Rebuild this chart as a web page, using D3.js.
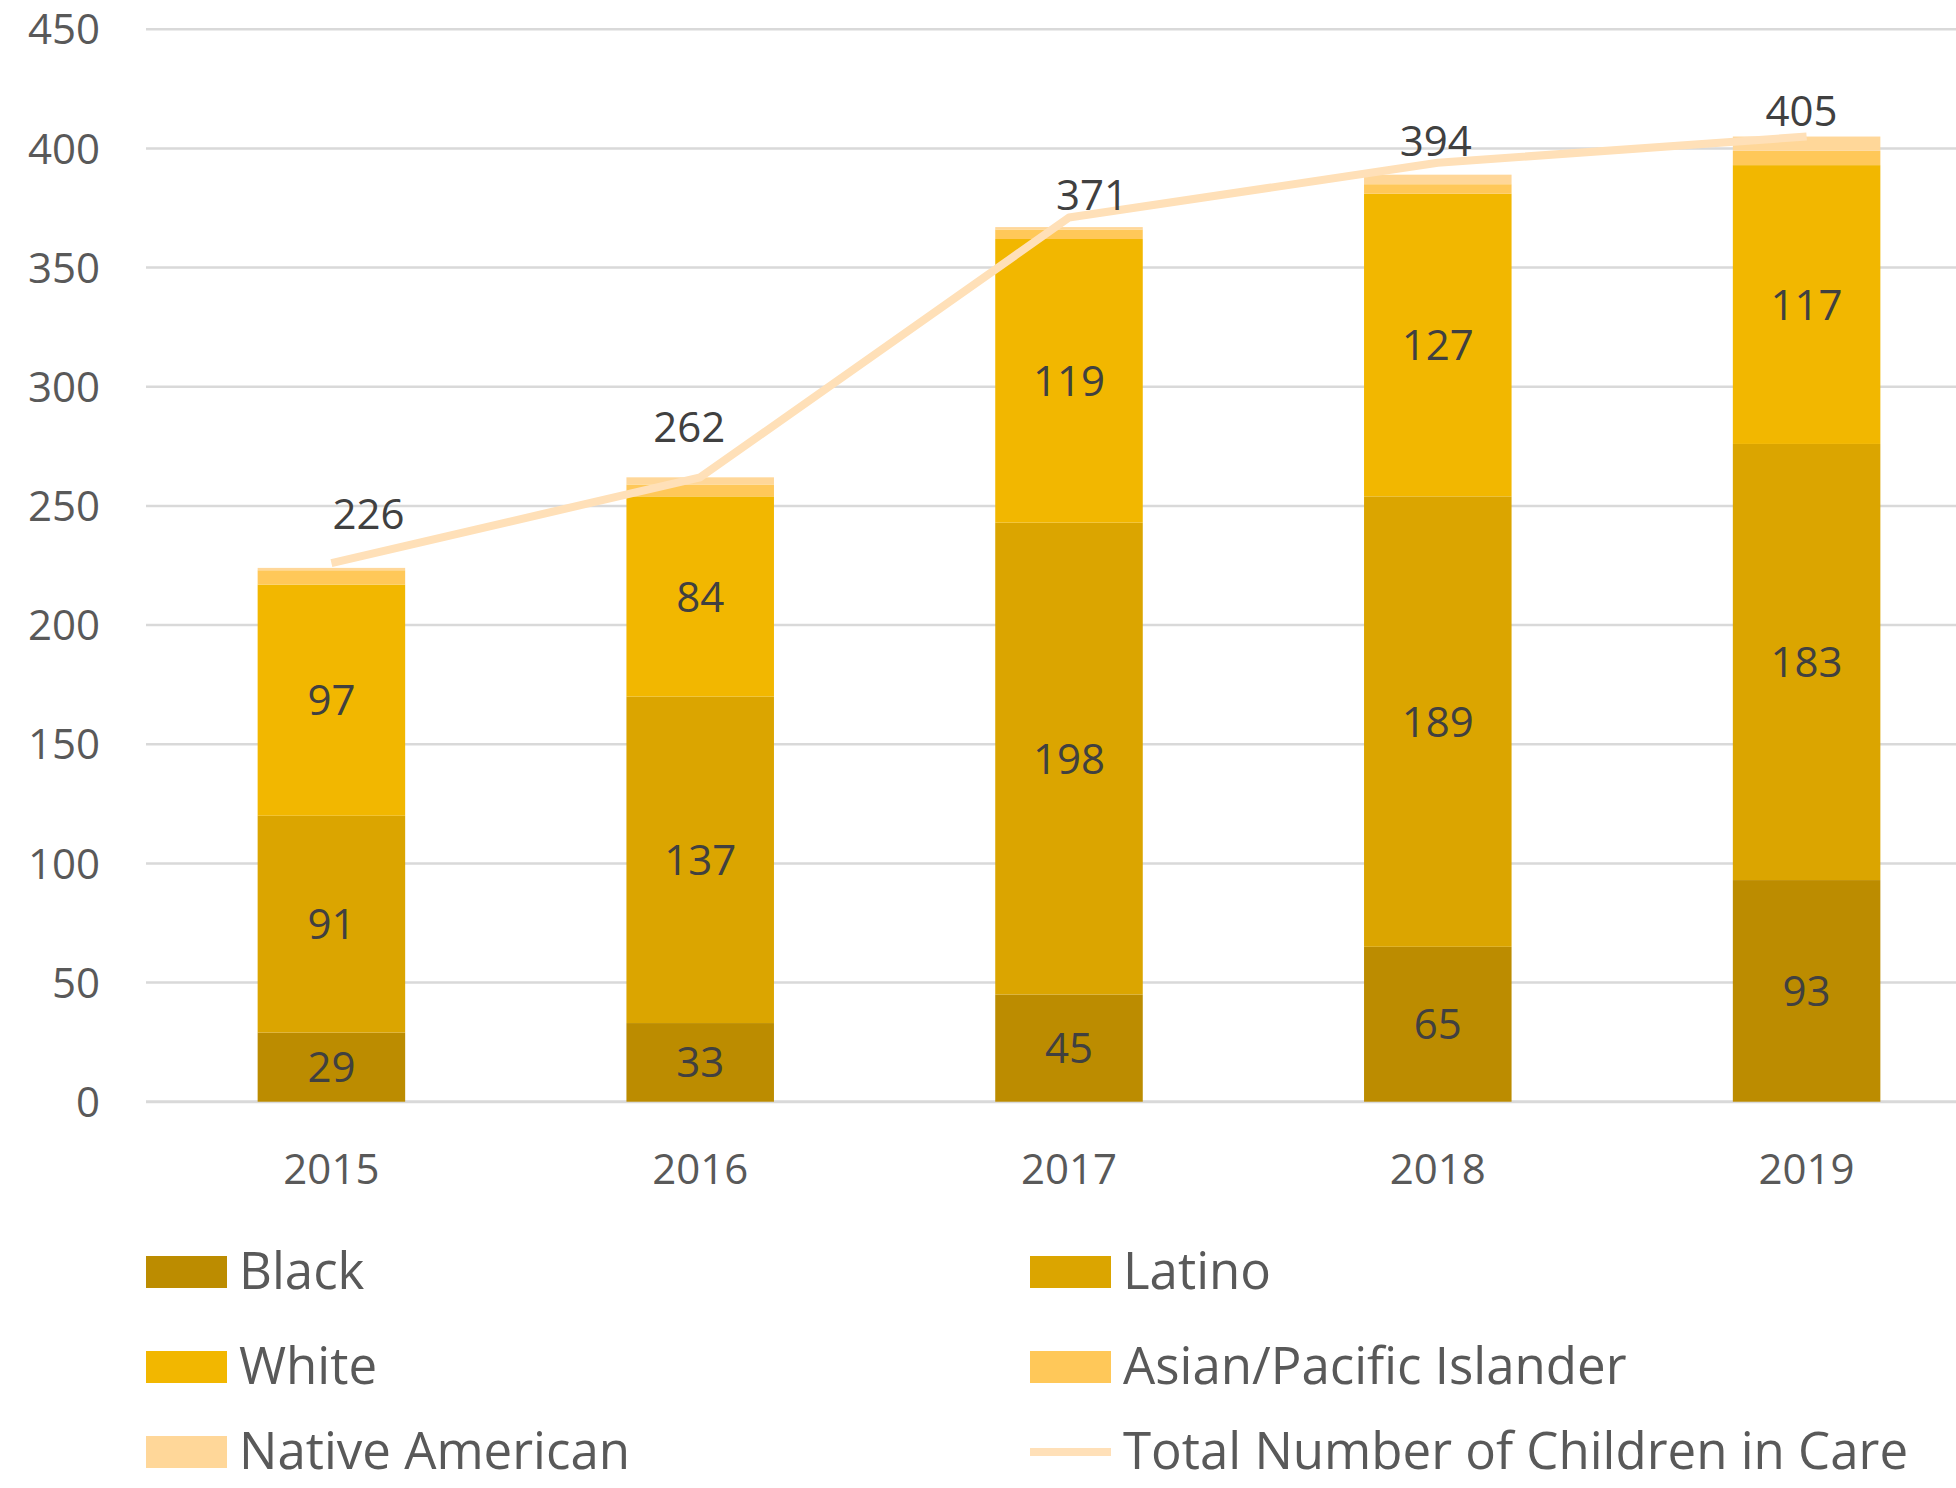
<!DOCTYPE html>
<html>
<head>
<meta charset="utf-8">
<script src="https://cdn.jsdelivr.net/npm/d3@7"></script>
<style>
  html, body { margin: 0; padding: 0; background: #fff; }
  svg { display: block; font-family: "Open Sans", "Noto Sans", sans-serif; }
</style>
</head>
<body>
<svg id="chart" width="1956" height="1488"></svg>
<script>
var years = ["2015", "2016", "2017", "2018", "2019"];
var black = [29, 33, 45, 65, 93];
var latino = [91, 137, 198, 189, 183];
var white = [97, 84, 119, 127, 117];
var asian = [6, 5, 4, 4, 6];
var native = [1, 3, 1, 4, 6];
var totals = [226, 262, 371, 394, 405];
var yTicks = [0, 50, 100, 150, 200, 250, 300, 350, 400, 450];

var seriesNames = ["Black", "Latino", "White", "Asian/Pacific Islander", "Native American"];
var seriesColors = ["#bc8c00", "#dba500", "#f2b700", "#ffc859", "#ffd799"];
var lineName = "Total Number of Children in Care";
var lineColor = "#ffe0b8";

// hand placed total labels (px offsets from the line point)
var totalNudgeX = [37, -11, 23, -2, -5];
var totalNudgeY = [-49, -50, -23, -22, -26];

var W = 1956;
var svg = d3.select("#chart");

var x = d3.scaleBand().domain(years).range([147, 1991]).paddingInner(0.6).paddingOuter(0.3);
var y = d3.scaleLinear().domain([0, 450]).range([1101.7, 29.3]);

var table = years.map(function (yr, i) {
  return { year: yr, Black: black[i], Latino: latino[i], White: white[i],
    "Asian/Pacific Islander": asian[i], "Native American": native[i] };
});
var stacked = d3.stack().keys(seriesNames)(table);

// gridlines
svg.append("g").selectAll("line")
  .data(yTicks)
  .enter().append("line")
  .attr("x1", 146).attr("x2", W)
  .attr("y1", function (d) { return y(d); })
  .attr("y2", function (d) { return y(d); })
  .attr("stroke", "#d9d9d9")
  .attr("stroke-width", function (d) { return d === 0 ? 3 : 2.5; });

// y labels
svg.append("g").selectAll("text")
  .data(yTicks)
  .enter().append("text")
  .attr("x", 100)
  .attr("y", function (d) { return y(d); })
  .attr("dy", "0.36em")
  .attr("text-anchor", "end")
  .attr("font-size", 42)
  .attr("fill", "#595959")
  .text(function (d) { return d; });

// x labels
svg.append("g").selectAll("text")
  .data(years)
  .enter().append("text")
  .attr("x", function (d) { return x(d) + x.bandwidth() / 2; })
  .attr("y", 1169)
  .attr("dy", "0.36em")
  .attr("text-anchor", "middle")
  .attr("font-size", 42)
  .attr("fill", "#595959")
  .text(function (d) { return d; });

// bars
var layer = svg.append("g").selectAll("g")
  .data(stacked)
  .enter().append("g")
  .attr("fill", function (d, i) { return seriesColors[i]; });

layer.selectAll("rect")
  .data(function (d) { return d; })
  .enter().append("rect")
  .attr("x", function (d) { return x(d.data.year); })
  .attr("width", x.bandwidth())
  .attr("y", function (d) { return y(d[1]); })
  .attr("height", function (d) { return y(d[0]) - y(d[1]); });

// segment labels for the three big series
svg.append("g").selectAll("g")
  .data(stacked.slice(0, 3))
  .enter().append("g")
  .selectAll("text")
  .data(function (d) { return d; })
  .enter().append("text")
  .attr("x", function (d) { return x(d.data.year) + x.bandwidth() / 2; })
  .attr("y", function (d) { return (y(d[0]) + y(d[1])) / 2; })
  .attr("dy", "0.36em")
  .attr("text-anchor", "middle")
  .attr("font-size", 42)
  .attr("fill", "#404040")
  .text(function (d) { return d[1] - d[0]; });

// total line
var line = d3.line()
  .x(function (d, i) { return x(years[i]) + x.bandwidth() / 2; })
  .y(function (d) { return y(d); });

svg.append("path")
  .datum(totals)
  .attr("d", line)
  .attr("fill", "none")
  .attr("stroke", lineColor)
  .attr("stroke-width", 8)
  .attr("stroke-linejoin", "round");

svg.append("g").selectAll("text")
  .data(totals)
  .enter().append("text")
  .attr("x", function (d, i) { return x(years[i]) + x.bandwidth() / 2 + totalNudgeX[i]; })
  .attr("y", function (d, i) { return y(d) + totalNudgeY[i]; })
  .attr("dy", "0.36em")
  .attr("text-anchor", "middle")
  .attr("font-size", 42)
  .attr("fill", "#404040")
  .text(function (d) { return d; });

// legend
var legendItems = [
  { name: "Black", color: seriesColors[0], type: "box" },
  { name: "Latino", color: seriesColors[1], type: "box" },
  { name: "White", color: seriesColors[2], type: "box" },
  { name: "Asian/Pacific Islander", color: seriesColors[3], type: "box" },
  { name: "Native American", color: seriesColors[4], type: "box" },
  { name: lineName, color: lineColor, type: "line" }
];
var legendColX = [146, 1030];
var legendRowY = [1272, 1367, 1452];

var leg = svg.append("g").selectAll("g")
  .data(legendItems)
  .enter().append("g")
  .attr("transform", function (d, i) {
    return "translate(" + legendColX[i % 2] + "," + legendRowY[Math.floor(i / 2)] + ")";
  });

leg.filter(function (d) { return d.type === "box"; })
  .append("rect")
  .attr("x", 0).attr("y", -16)
  .attr("width", 81).attr("height", 32)
  .attr("fill", function (d) { return d.color; });

leg.filter(function (d) { return d.type === "line"; })
  .append("line")
  .attr("x1", 0).attr("x2", 81)
  .attr("y1", 0).attr("y2", 0)
  .attr("stroke", function (d) { return d.color; })
  .attr("stroke-width", 8);

leg.append("text")
  .attr("x", 93)
  .attr("y", 17)
  .attr("font-size", 51)
  .attr("fill", "#595959")
  .text(function (d) { return d.name; });
</script>
</body>
</html>
